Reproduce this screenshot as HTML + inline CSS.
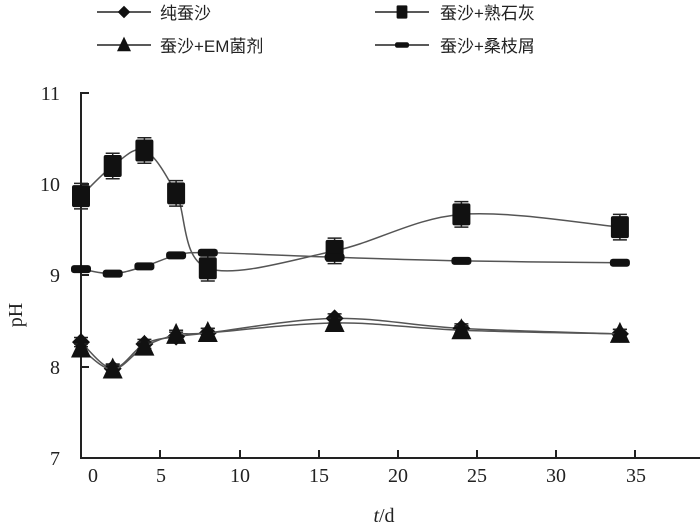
<!DOCTYPE html>
<html><head><meta charset="utf-8"><style>
body{margin:0;background:#fff;}
svg{display:block;font-family:"Liberation Serif","Noto Serif CJK SC",serif;}
.cj{font-family:"Liberation Sans","Noto Sans CJK SC",sans-serif;font-size:17px;}
</style></head><body>
<svg id="s" width="700" height="528" xmlns="http://www.w3.org/2000/svg">
<g stroke="#222" stroke-width="2" fill="none">
<line x1="81" y1="92" x2="81" y2="459"/>
<line x1="80" y1="458" x2="700" y2="458"/>
<line x1="160" y1="458" x2="160" y2="450"/><line x1="240" y1="458" x2="240" y2="450"/>
<line x1="319" y1="458" x2="319" y2="450"/><line x1="398" y1="458" x2="398" y2="450"/>
<line x1="477" y1="458" x2="477" y2="450"/><line x1="556" y1="458" x2="556" y2="450"/>
<line x1="635" y1="458" x2="635" y2="450"/>
<line x1="81" y1="93" x2="89" y2="93"/><line x1="81" y1="184" x2="89" y2="184"/>
<line x1="81" y1="275" x2="89" y2="275"/><line x1="81" y1="367" x2="89" y2="367"/>
</g>
<g font-size="20" fill="#222" text-anchor="middle">
<text x="93" y="482">0</text><text x="161" y="482">5</text><text x="240" y="482">10</text>
<text x="319" y="482">15</text><text x="398" y="482">20</text><text x="477" y="482">25</text>
<text x="556" y="482">30</text><text x="636" y="482">35</text>
<text x="60" y="100" text-anchor="end">11</text><text x="60" y="191" text-anchor="end">10</text>
<text x="60" y="282" text-anchor="end">9</text><text x="60" y="374" text-anchor="end">8</text>
<text x="60" y="465" text-anchor="end">7</text>
<text x="384" y="522"><tspan font-style="italic">t</tspan>/d</text>
<text transform="translate(22,315) rotate(-90)">pH</text>
</g>
<g id="d"></g>
<g fill="#222" class="cj">
<text x="160" y="19">纯蚕沙</text><text x="440" y="19">蚕沙+熟石灰</text>
<text x="160" y="52">蚕沙+EM菌剂</text><text x="440" y="52">蚕沙+桑枝屑</text>
</g>
<g id="lg"></g>
</svg>
<script>
const NS="http://www.w3.org/2000/svg";
const X=t=>81+t*15.85, Y=v=>93+(11-v)*91.25;
const ts=[0,2,4,6,8,16,24,34];
const S=[
 {v:[8.27,7.98,8.25,8.33,8.37,8.53,8.42,8.36],m:'dia',e:0.05},
 {v:[9.87,10.2,10.37,9.9,9.08,9.27,9.67,9.53],m:'sq',e:0.14},
 {v:[8.2,7.97,8.22,8.35,8.37,8.48,8.4,8.36],m:'tri',e:0.05},
 {v:[9.07,9.02,9.1,9.22,9.25,9.2,9.16,9.14],m:'bar',e:0.02}];
const d=document.getElementById('d');
function el(n,a,p){const e=document.createElementNS(NS,n);for(const k in a)e.setAttribute(k,a[k]);(p||d).appendChild(e);return e;}
function marker(m,x,y,p){
 if(m=='sq')el('rect',{x:x-9,y:y-11,width:18,height:22,rx:2,fill:'#111'},p);
 if(m=='dia')el('polygon',{points:`${x},${y-9} ${x+9},${y} ${x},${y+9} ${x-9},${y}`,fill:'#111'},p);
 if(m=='tri')el('polygon',{points:`${x},${y-12} ${x+10},${y+9} ${x-10},${y+9}`,fill:'#111'},p);
 if(m=='bar')el('rect',{x:x-10,y:y-4,width:20,height:8,rx:3,fill:'#111'},p);
}
S.forEach(s=>{
 const P=ts.map((t,i)=>[X(t),Y(s.v[i])]);
 let path=`M${P[0][0]},${P[0][1]}`;
 for(let i=0;i<P.length-1;i++){
  const p0=P[Math.max(0,i-1)],p1=P[i],p2=P[i+1],p3=P[Math.min(P.length-1,i+2)];
  const c1=[p1[0]+(p2[0]-p0[0])/6,p1[1]+(p2[1]-p0[1])/6],c2=[p2[0]-(p3[0]-p1[0])/6,p2[1]-(p3[1]-p1[1])/6];
  path+=` C${c1} ${c2} ${p2}`;
 }
 el('path',{d:path,fill:'none',stroke:'#555',"stroke-width":1.5});
 P.forEach(([x,y])=>{
  const e=s.e*91.25;
  el('path',{d:`M${x},${y-e}V${y+e}M${x-7},${y-e}H${x+7}M${x-7},${y+e}H${x+7}`,stroke:'#222',"stroke-width":1.5,fill:'none'});
  marker(s.m,x,y);
 });
});
const lg=document.getElementById('lg');
[[97,12,'dia'],[375,12,'sq'],[97,45,'tri'],[375,45,'bar']].forEach(([x,y,m])=>{
 el('line',{x1:x,y1:y,x2:x+54,y2:y,stroke:'#222',"stroke-width":1.5},lg);
 const sc=m=='sq'?0.6:0.7;
 const g=el('g',{transform:`translate(${x+27},${y}) scale(${sc})`},lg);
 marker(m,0,0,g);
});
</script>
</body></html>
